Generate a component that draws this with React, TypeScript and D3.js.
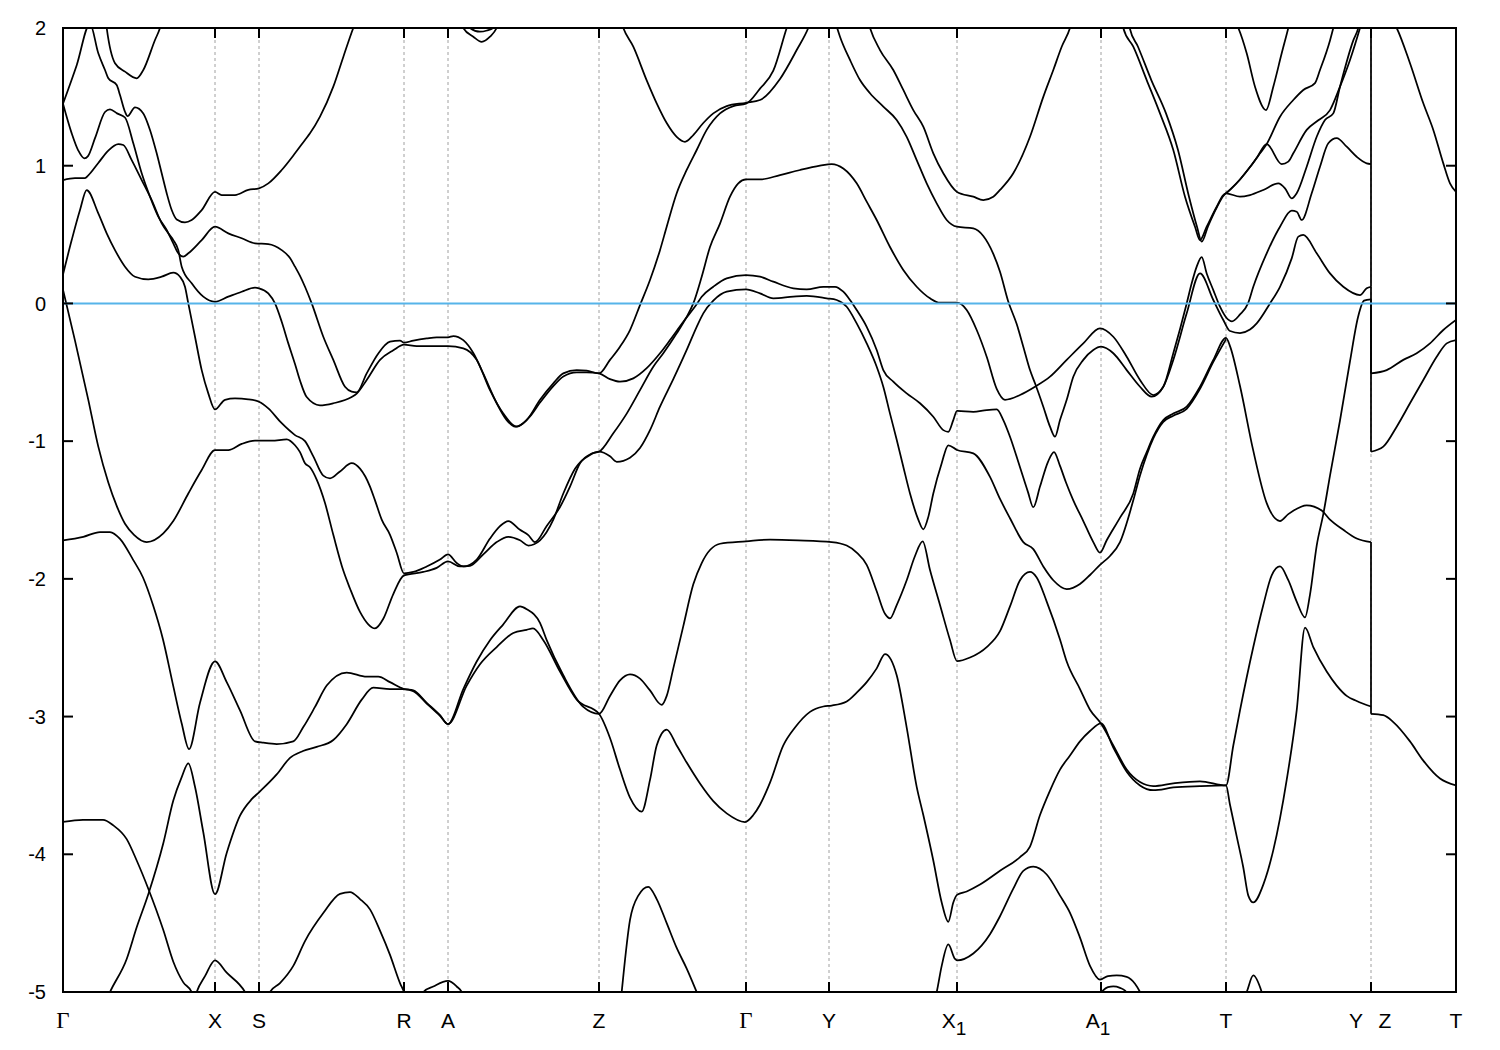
import React, { useEffect, useRef } from 'react';
import * as d3 from 'd3';

type Pt = [number, number];

// high-symmetry points along the k-path
const kTicks = [0, 1.52, 1.96, 3.41, 3.85, 5.36, 6.83, 7.66, 8.94, 10.38, 11.63, 13.08, 13.93];
const kLabels = ['Γ', 'X', 'S', 'R', 'A', 'Z', 'Γ', 'Y', 'X_1', 'A_1', 'T', 'Y|Z', 'T'];
const energyTicks = [-5, -4, -3, -2, -1, 0, 1, 2];

// bands: [k, E (eV)]
const band01: Pt[] = [[0,1.45],[0.137,1.73],[0.27,2.03],[0.353,1.816],[0.42,1.695],[0.453,1.635],[0.537,1.586],[0.57,1.513],[0.62,1.392],[0.645,1.36],[0.72,1.424],[0.803,1.38],[0.87,1.26],[0.937,1.09],[0.987,0.945],[1.037,0.8],[1.087,0.678],[1.137,0.61],[1.22,0.589],[1.287,0.606],[1.387,0.678],[1.52,0.81],[1.587,0.787],[1.72,0.787],[1.853,0.824],[1.96,0.836],[2.053,0.872],[2.187,0.969],[2.32,1.09],[2.42,1.187],[2.47,1.235],[2.57,1.356],[2.703,1.574],[2.803,1.79],[2.903,2.0],[2.93,2.05]];
const band02: Pt[] = [[0,1.45],[0.087,1.235],[0.153,1.11],[0.213,1.054],[0.25,1.07],[0.32,1.2],[0.42,1.39],[0.47,1.41],[0.54,1.38],[0.62,1.35],[0.703,1.163],[0.787,0.945],[0.87,0.775],[0.953,0.63],[1.037,0.533],[1.103,0.436],[1.153,0.364],[1.203,0.34],[1.253,0.364],[1.387,0.46],[1.52,0.557],[1.653,0.509],[1.787,0.473],[1.92,0.436],[2.053,0.431],[2.187,0.387],[2.27,0.33],[2.32,0.267],[2.37,0.2],[2.42,0.121],[2.487,0.0],[2.603,-0.242],[2.703,-0.41],[2.82,-0.605],[2.887,-0.64],[2.937,-0.645],[3.037,-0.508],[3.153,-0.363],[3.27,-0.278],[3.37,-0.27],[3.41,-0.285],[3.503,-0.27],[3.637,-0.254],[3.737,-0.246],[3.85,-0.246],[3.903,-0.237],[4.003,-0.267],[4.103,-0.36],[4.203,-0.51],[4.337,-0.725],[4.437,-0.847],[4.52,-0.895],[4.637,-0.847],[4.77,-0.7],[4.903,-0.58],[5.003,-0.508],[5.137,-0.484],[5.237,-0.488],[5.36,-0.508],[5.47,-0.41],[5.57,-0.314],[5.67,-0.193],[5.77,-0.012],[5.87,0.17],[5.97,0.387],[6.037,0.557],[6.137,0.8],[6.237,0.969],[6.337,1.114],[6.437,1.26],[6.57,1.38],[6.703,1.433],[6.83,1.45],[6.97,1.56],[7.103,1.69],[7.237,2.0],[7.26,2.05]];
const band03: Pt[] = [[0,0.896],[0.12,0.91],[0.22,0.91],[0.253,0.93],[0.353,1.02],[0.453,1.11],[0.553,1.157],[0.603,1.15],[0.687,1.041],[0.787,0.896],[0.887,0.751],[0.987,0.582],[1.053,0.509],[1.103,0.46],[1.153,0.387],[1.187,0.267],[1.287,0.146],[1.403,0.049],[1.52,0.012],[1.653,0.049],[1.787,0.085],[1.92,0.114],[1.96,0.11],[2.053,0.073],[2.12,0.0],[2.187,-0.133],[2.253,-0.29],[2.32,-0.44],[2.37,-0.56],[2.437,-0.68],[2.57,-0.74],[2.703,-0.725],[2.887,-0.68],[2.937,-0.655],[3.037,-0.556],[3.17,-0.41],[3.303,-0.34],[3.41,-0.3],[3.537,-0.31],[3.67,-0.31],[3.85,-0.31],[4.003,-0.326],[4.137,-0.41],[4.27,-0.63],[4.403,-0.8],[4.537,-0.895],[4.67,-0.82],[4.77,-0.72],[4.903,-0.6],[5.003,-0.53],[5.137,-0.5],[5.237,-0.5],[5.36,-0.508],[5.47,-0.55],[5.57,-0.568],[5.703,-0.544],[5.837,-0.47],[5.97,-0.362],[6.07,-0.266],[6.203,-0.133],[6.333,-0.01],[6.387,0.048],[6.503,0.121],[6.637,0.182],[6.83,0.206],[6.97,0.194],[7.103,0.158],[7.303,0.11],[7.437,0.102],[7.603,0.121],[7.72,0.121],[7.803,0.085],[7.87,0.025],[7.937,-0.048],[8.037,-0.17],[8.137,-0.338],[8.203,-0.484],[8.303,-0.568],[8.437,-0.653],[8.57,-0.725],[8.703,-0.823],[8.803,-0.92],[8.853,-0.932],[8.903,-0.847],[8.94,-0.78],[9.103,-0.787],[9.237,-0.774],[9.337,-0.77],[9.403,-0.847],[9.47,-0.968],[9.57,-1.19],[9.65,-1.37],[9.703,-1.48],[9.77,-1.33],[9.85,-1.15],[9.91,-1.08],[9.97,-1.18],[10.03,-1.3],[10.103,-1.43],[10.203,-1.58],[10.303,-1.733],[10.37,-1.81],[10.437,-1.72],[10.57,-1.555],[10.703,-1.38],[10.77,-1.2],[10.837,-1.08],[10.903,-0.968],[11.003,-0.847],[11.103,-0.8],[11.237,-0.75],[11.37,-0.605],[11.503,-0.41],[11.63,-0.25],[11.67,-0.31],[11.77,-0.6],[11.9,-1.06],[12.037,-1.45],[12.17,-1.58],[12.253,-1.53],[12.437,-1.466],[12.587,-1.504],[12.67,-1.57],[12.803,-1.644],[12.937,-1.707],[13.08,-1.733]];
const band04: Pt[] = [[0,0.21],[0.087,0.46],[0.17,0.678],[0.237,0.823],[0.353,0.654],[0.437,0.509],[0.52,0.387],[0.62,0.267],[0.72,0.194],[0.853,0.175],[0.987,0.194],[1.103,0.223],[1.17,0.194],[1.22,0.121],[1.253,0.0],[1.32,-0.242],[1.387,-0.484],[1.453,-0.653],[1.52,-0.77],[1.62,-0.7],[1.72,-0.69],[1.853,-0.696],[1.96,-0.714],[2.053,-0.762],[2.187,-0.87],[2.32,-0.956],[2.42,-1.0],[2.503,-1.11],[2.603,-1.25],[2.67,-1.27],[2.77,-1.22],[2.887,-1.16],[2.97,-1.2],[3.07,-1.33],[3.12,-1.43],[3.187,-1.57],[3.27,-1.68],[3.337,-1.81],[3.41,-1.96],[3.503,-1.95],[3.637,-1.91],[3.77,-1.86],[3.85,-1.822],[3.937,-1.885],[4.003,-1.91],[4.137,-1.86],[4.27,-1.707],[4.37,-1.617],[4.453,-1.58],[4.57,-1.644],[4.653,-1.682],[4.72,-1.733],[4.837,-1.616],[4.97,-1.478],[5.07,-1.33],[5.17,-1.16],[5.287,-1.09],[5.36,-1.077],[5.503,-0.943],[5.637,-0.8],[5.77,-0.63],[5.903,-0.46],[6.003,-0.362],[6.137,-0.217],[6.237,-0.097],[6.303,0.0],[6.387,0.194],[6.47,0.41],[6.57,0.58],[6.67,0.775],[6.753,0.872],[6.83,0.9],[6.97,0.9],[7.17,0.932],[7.37,0.969],[7.57,1.0],[7.687,1.012],[7.803,0.98],[7.937,0.872],[8.037,0.739],[8.137,0.606],[8.27,0.41],[8.403,0.243],[8.537,0.121],[8.67,0.037],[8.77,0.005],[8.94,0.005],[9.037,-0.048],[9.137,-0.193],[9.237,-0.387],[9.337,-0.62],[9.42,-0.7],[9.57,-0.665],[9.72,-0.605],[9.87,-0.532],[10.037,-0.41],[10.203,-0.29],[10.37,-0.181],[10.503,-0.242],[10.637,-0.387],[10.77,-0.556],[10.903,-0.665],[11.003,-0.605],[11.103,-0.362],[11.237,0.0],[11.287,0.146],[11.337,0.267],[11.387,0.336],[11.437,0.218],[11.503,0.097],[11.57,-0.024],[11.63,-0.1],[11.69,-0.13],[11.77,-0.08],[11.85,0.0],[11.903,0.121],[12.037,0.364],[12.17,0.557],[12.287,0.673],[12.337,0.666],[12.387,0.606],[12.487,0.8],[12.57,0.993],[12.653,1.163],[12.737,1.2],[12.837,1.138],[12.937,1.065],[13.037,1.017],[13.08,1.012]];
const band05: Pt[] = [[0,0.1],[0.12,-0.27],[0.253,-0.7],[0.353,-1.04],[0.453,-1.3],[0.537,-1.47],[0.62,-1.6],[0.71,-1.68],[0.837,-1.733],[1.003,-1.67],[1.103,-1.58],[1.253,-1.38],[1.387,-1.21],[1.52,-1.065],[1.653,-1.065],[1.787,-1.02],[1.92,-0.997],[2.087,-0.997],[2.237,-0.987],[2.32,-1.03],[2.37,-1.08],[2.42,-1.16],[2.47,-1.19],[2.537,-1.28],[2.62,-1.45],[2.703,-1.68],[2.803,-1.94],[2.87,-2.07],[2.97,-2.24],[3.053,-2.33],[3.12,-2.36],[3.203,-2.29],[3.303,-2.11],[3.41,-1.975],[3.603,-1.95],[3.737,-1.92],[3.85,-1.873],[3.97,-1.91],[4.07,-1.905],[4.203,-1.822],[4.337,-1.733],[4.453,-1.695],[4.57,-1.72],[4.653,-1.758],[4.77,-1.72],[4.903,-1.57],[5.003,-1.38],[5.12,-1.2],[5.27,-1.1],[5.36,-1.077],[5.47,-1.11],[5.537,-1.15],[5.67,-1.12],[5.77,-1.05],[5.87,-0.92],[5.97,-0.75],[6.103,-0.55],[6.237,-0.338],[6.337,-0.17],[6.403,-0.072],[6.503,0.02],[6.637,0.085],[6.83,0.102],[6.97,0.073],[7.103,0.037],[7.303,0.049],[7.437,0.054],[7.637,0.037],[7.737,0.025],[7.837,-0.024],[7.937,-0.145],[8.037,-0.29],[8.137,-0.46],[8.203,-0.605],[8.27,-0.8],[8.337,-0.99],[8.403,-1.186],[8.47,-1.38],[8.553,-1.57],[8.603,-1.64],[8.653,-1.55],[8.703,-1.38],[8.787,-1.16],[8.853,-1.03],[8.94,-1.064],[9.103,-1.089],[9.27,-1.26],[9.37,-1.42],[9.47,-1.56],[9.603,-1.733],[9.703,-1.784],[9.803,-1.91],[9.903,-2.01],[10.037,-2.074],[10.17,-2.037],[10.27,-1.972],[10.37,-1.898],[10.47,-1.834],[10.57,-1.733],[10.703,-1.43],[10.77,-1.25],[10.837,-1.1],[10.903,-0.98],[11.003,-0.86],[11.103,-0.815],[11.237,-0.765],[11.37,-0.62],[11.503,-0.425],[11.63,-0.26]];
const band06: Pt[] = [[0,-1.72],[0.203,-1.695],[0.37,-1.66],[0.47,-1.66],[0.57,-1.71],[0.7,-1.86],[0.8,-1.99],[0.9,-2.19],[1.0,-2.44],[1.1,-2.77],[1.187,-3.05],[1.26,-3.236],[1.37,-2.9],[1.52,-2.6],[1.637,-2.75],[1.77,-2.955],[1.92,-3.18],[2.003,-3.19],[2.137,-3.2],[2.303,-3.18],[2.4,-3.08],[2.52,-2.93],[2.637,-2.775],[2.837,-2.68],[3.037,-2.71],[3.153,-2.71],[3.27,-2.75],[3.41,-2.8],[3.503,-2.81],[3.637,-2.9],[3.77,-2.99],[3.85,-3.055],[4.003,-2.8],[4.137,-2.6],[4.27,-2.445],[4.403,-2.33],[4.57,-2.2],[4.637,-2.22],[4.77,-2.32],[4.837,-2.445],[5.003,-2.7],[5.203,-2.93],[5.36,-2.98],[5.47,-2.85],[5.57,-2.737],[5.67,-2.693],[5.77,-2.724],[5.87,-2.81],[5.987,-2.915],[6.037,-2.85],[6.103,-2.65],[6.203,-2.343],[6.303,-2.04],[6.387,-1.885],[6.57,-1.745],[6.83,-1.728],[7.07,-1.715],[7.35,-1.72],[7.687,-1.733],[7.837,-1.758],[7.937,-1.809],[8.037,-1.898],[8.137,-2.09],[8.22,-2.254],[8.27,-2.287],[8.337,-2.19],[8.437,-2.01],[8.52,-1.834],[8.597,-1.728],[8.67,-1.936],[8.77,-2.19],[8.87,-2.444],[8.94,-2.597],[9.07,-2.571],[9.237,-2.495],[9.37,-2.38],[9.47,-2.2],[9.57,-2.01],[9.67,-1.95],[9.737,-1.99],[9.837,-2.165],[9.97,-2.44],[10.037,-2.6],[10.17,-2.8],[10.27,-2.95],[10.38,-3.05],[10.503,-3.21],[10.637,-3.385],[10.77,-3.476],[10.903,-3.505],[11.103,-3.485],[11.37,-3.47],[11.63,-3.5],[11.703,-3.21],[11.77,-2.955],[11.903,-2.495],[12.003,-2.19],[12.087,-1.974],[12.17,-1.91],[12.253,-2.01],[12.337,-2.165],[12.42,-2.28],[12.47,-2.114],[12.537,-1.758],[12.603,-1.53],[12.67,-1.25],[12.77,-0.85],[12.87,-0.42],[12.95,-0.1],[13.01,0.02],[13.08,0.03]];
const band07: Pt[] = [[0,-3.765],[0.2,-3.75],[0.4,-3.75],[0.503,-3.79],[0.637,-3.89],[0.737,-4.045],[0.853,-4.25],[1.003,-4.55],[1.103,-4.78],[1.203,-4.93],[1.287,-5.0],[1.3,-5.05]];
const band08: Pt[] = [[0.44,-5.05],[0.47,-5.0],[0.637,-4.76],[0.737,-4.53],[0.853,-4.29],[1.003,-3.92],[1.103,-3.61],[1.187,-3.44],[1.253,-3.34],[1.32,-3.51],[1.403,-3.84],[1.52,-4.29],[1.637,-3.99],[1.77,-3.72],[1.887,-3.6],[1.96,-3.55],[2.137,-3.42],[2.27,-3.3],[2.4,-3.25],[2.537,-3.22],[2.703,-3.17],[2.837,-3.055],[2.987,-2.877],[3.103,-2.79],[3.27,-2.8],[3.41,-2.8],[3.503,-2.815],[3.637,-2.905],[3.77,-2.995],[3.85,-3.055],[4.037,-2.775],[4.17,-2.62],[4.337,-2.495],[4.503,-2.393],[4.637,-2.37],[4.7,-2.36],[4.803,-2.445],[4.97,-2.673],[5.137,-2.877],[5.36,-2.98],[5.47,-3.156],[5.57,-3.385],[5.67,-3.588],[5.787,-3.69],[5.87,-3.46],[5.937,-3.21],[6.037,-3.095],[6.137,-3.21],[6.237,-3.334],[6.37,-3.486],[6.503,-3.614],[6.637,-3.703],[6.82,-3.766],[6.903,-3.715],[6.97,-3.64],[7.07,-3.48],[7.203,-3.21],[7.32,-3.08],[7.47,-2.966],[7.603,-2.927],[7.687,-2.92],[7.837,-2.89],[7.937,-2.826],[8.037,-2.75],[8.137,-2.65],[8.22,-2.546],[8.337,-2.7],[8.437,-3.08],[8.537,-3.51],[8.603,-3.715],[8.703,-4.045],[8.787,-4.35],[8.853,-4.49],[8.903,-4.35],[8.94,-4.295],[9.037,-4.27],[9.17,-4.22],[9.37,-4.12],[9.57,-4.02],[9.67,-3.944],[9.77,-3.715],[9.87,-3.537],[9.97,-3.385],[10.07,-3.283],[10.17,-3.18],[10.27,-3.105],[10.38,-3.05],[10.503,-3.225],[10.637,-3.4],[10.77,-3.5],[10.903,-3.535],[11.103,-3.515],[11.37,-3.505],[11.63,-3.5],[11.67,-3.64],[11.737,-3.87],[11.803,-4.096],[11.853,-4.3],[11.903,-4.35],[12.003,-4.22],[12.103,-3.97],[12.237,-3.46],[12.337,-2.955],[12.42,-2.355],[12.503,-2.495],[12.637,-2.673],[12.737,-2.775],[12.837,-2.85],[12.937,-2.887],[13.08,-2.927]];
const band09: Pt[] = [[1.32,-5.04],[1.337,-5.0],[1.42,-4.885],[1.52,-4.77],[1.637,-4.86],[1.82,-5.0],[1.85,-5.04]];
const band10: Pt[] = [[2.05,-5.04],[2.07,-5.0],[2.17,-4.935],[2.303,-4.81],[2.42,-4.63],[2.603,-4.427],[2.77,-4.287],[2.87,-4.274],[2.97,-4.325],[3.07,-4.4],[3.17,-4.554],[3.27,-4.73],[3.37,-4.935],[3.41,-5.0],[3.43,-5.04]];
const band11: Pt[] = [[3.58,-5.03],[3.603,-5.0],[3.703,-4.96],[3.85,-4.92],[3.937,-4.96],[3.987,-5.0],[4.0,-5.02]];
const band12: Pt[] = [[5.58,-5.05],[5.587,-5.0],[5.67,-4.477],[5.753,-4.3],[5.853,-4.236],[5.937,-4.325],[6.037,-4.5],[6.137,-4.68],[6.237,-4.83],[6.337,-5.0],[6.36,-5.04]];
const band13: Pt[] = [[8.72,-5.05],[8.737,-5.0],[8.787,-4.81],[8.853,-4.655],[8.92,-4.76],[8.94,-4.77],[9.103,-4.72],[9.27,-4.58],[9.37,-4.45],[9.503,-4.25],[9.603,-4.12],[9.703,-4.09],[9.837,-4.147],[9.97,-4.3],[10.07,-4.425],[10.17,-4.605],[10.27,-4.81],[10.37,-4.91],[10.45,-4.885],[10.537,-4.88],[10.637,-4.89],[10.72,-4.94],[10.77,-5.0],[10.79,-5.03]];
const band14: Pt[] = [[10.39,-4.995],[10.45,-4.965],[10.503,-4.96],[10.57,-4.97],[10.62,-4.99],[10.65,-5.02]];
const band15: Pt[] = [[11.82,-5.03],[11.837,-5.0],[11.903,-4.88],[11.987,-5.0],[12.0,-5.03]];
const band16: Pt[] = [[8.05,2.05],[8.07,2.0],[8.17,1.84],[8.303,1.695],[8.403,1.55],[8.503,1.404],[8.603,1.283],[8.703,1.09],[8.803,0.945],[8.94,0.81],[9.103,0.775],[9.203,0.751],[9.303,0.775],[9.37,0.824],[9.503,0.945],[9.67,1.21],[9.803,1.5],[9.903,1.695],[9.987,1.864],[10.07,2.0],[10.09,2.05]];
const band17: Pt[] = [[7.72,2.05],[7.77,1.937],[7.87,1.768],[7.97,1.622],[8.07,1.526],[8.203,1.429],[8.337,1.332],[8.437,1.21],[8.537,1.041],[8.637,0.872],[8.737,0.727],[8.837,0.606],[8.94,0.557],[9.103,0.545],[9.203,0.49],[9.303,0.36],[9.37,0.23],[9.45,0.02],[9.537,-0.15],[9.603,-0.314],[9.67,-0.484],[9.72,-0.58],[9.803,-0.75],[9.87,-0.895],[9.92,-0.968],[9.97,-0.847],[10.037,-0.7],[10.103,-0.532],[10.203,-0.41],[10.303,-0.338],[10.38,-0.314],[10.503,-0.362],[10.637,-0.484],[10.77,-0.605],[10.887,-0.677],[11.003,-0.605],[11.103,-0.41],[11.237,-0.072],[11.37,0.218],[11.503,0.025],[11.603,-0.12],[11.67,-0.2],[11.77,-0.215],[11.87,-0.19],[11.937,-0.145],[12.07,0.0],[12.17,0.121],[12.287,0.327],[12.353,0.485],[12.403,0.497],[12.537,0.364],[12.67,0.218],[12.803,0.121],[12.97,0.061],[13.037,0.11],[13.08,0.121]];
const band18: Pt[] = [[5.58,2.05],[5.603,2.0],[5.703,1.864],[5.837,1.62],[5.937,1.453],[6.037,1.31],[6.137,1.21],[6.22,1.174],[6.303,1.223],[6.403,1.31],[6.503,1.38],[6.637,1.433],[6.83,1.457],[6.97,1.477],[7.17,1.63],[7.337,1.84],[7.453,2.0],[7.48,2.05]];
const band19: Pt[] = [[10.58,2.1],[10.603,2.0],[10.703,1.864],[10.837,1.622],[10.97,1.38],[11.103,1.114],[11.22,0.775],[11.32,0.557],[11.37,0.46],[11.437,0.557],[11.537,0.702],[11.603,0.787],[11.63,0.8],[11.77,0.9],[11.87,0.99],[11.97,1.09],[12.037,1.157],[12.17,1.356],[12.303,1.477],[12.403,1.55],[12.52,1.6],[12.57,1.695],[12.67,1.91],[12.703,2.0],[12.72,2.05]];
const band20: Pt[] = [[10.64,2.1],[10.667,2.0],[10.75,1.864],[10.883,1.622],[11.03,1.38],[11.15,1.114],[11.26,0.775],[11.34,0.557],[11.387,0.448],[11.45,0.56],[11.54,0.7],[11.603,0.78],[11.63,0.8],[11.77,0.775],[11.87,0.787],[12.003,0.824],[12.153,0.872],[12.22,0.836],[12.287,0.763],[12.337,0.8],[12.437,0.993],[12.537,1.21],[12.62,1.332],[12.703,1.38],[12.77,1.574],[12.903,1.91],[12.953,2.0],[12.97,2.05]];
const band21: Pt[] = [[11.63,0.8],[11.77,0.9],[11.87,0.99],[11.94,1.06],[12.037,1.157],[12.187,1.012],[12.253,1.03],[12.303,1.09],[12.437,1.26],[12.553,1.33],[12.67,1.404],[12.77,1.574],[12.87,1.768],[12.97,2.0],[12.99,2.05]];
const band22: Pt[] = [[11.72,2.05],[11.753,2.0],[11.837,1.816],[11.92,1.574],[12.03,1.404],[12.103,1.574],[12.187,1.816],[12.253,2.0],[12.27,2.05]];
const band23: Pt[] = [[13.3,2.05],[13.337,2.0],[13.47,1.744],[13.603,1.453],[13.703,1.26],[13.803,1.017],[13.87,0.872],[13.93,0.81]];
const band24: Pt[] = [[13.08,-0.508],[13.237,-0.484],[13.403,-0.41],[13.537,-0.362],[13.67,-0.29],[13.803,-0.193],[13.93,-0.12]];
const band25: Pt[] = [[13.08,-1.077],[13.203,-1.04],[13.337,-0.895],[13.47,-0.725],[13.603,-0.556],[13.737,-0.387],[13.837,-0.29],[13.93,-0.266]];
const band26: Pt[] = [[13.08,-2.98],[13.203,-2.99],[13.303,-3.04],[13.47,-3.18],[13.603,-3.32],[13.77,-3.45],[13.93,-3.5]];
const band27: Pt[] = [[0.42,2.1],[0.437,2.0],[0.52,1.744],[0.62,1.683],[0.737,1.635],[0.803,1.695],[0.92,1.913],[0.97,2.0],[0.99,2.05]];
const band28: Pt[] = [[3.98,2.04],[4.003,2.0],[4.103,1.937],[4.187,1.9],[4.27,1.937],[4.337,2.0],[4.36,2.04]];
const band29: Pt[] = [[4.05,2.03],[4.07,2.0],[4.17,1.973],[4.24,1.982],[4.3,2.0],[4.32,2.03]];

const bands: Pt[][] = [band01, band02, band03, band04, band05, band06, band07, band08, band09, band10, band11, band12, band13, band14, band15, band16, band17, band18, band19, band20, band21, band22, band23, band24, band25, band26, band27, band28, band29];

// energies joined by the vertical jump at Y|Z
const yzJumps: [number, number][] = [[-1.733, -2.98], [0.03, -1.077], [0.121, -0.508], [1.012, 2.3], [0.121, 1.012]];

export default function App(): JSX.Element {
  const ref = useRef<SVGSVGElement>(null);
  useEffect(() => {
    if (!ref.current) return;
    const svg = d3.select(ref.current);
    svg.selectAll('*').remove();
    const left = 63, right = 1456, top = 28, bottom = 992;
    const x = d3.scaleLinear().domain([0, 13.93]).range([left, right]);
    const y = d3.scaleLinear().domain([-5, 2]).range([bottom, top]);

    svg.append('rect').attr('width', 1500).attr('height', 1050).attr('fill', '#fff');
    svg.append('defs').append('clipPath').attr('id', 'plotclip')
      .append('rect').attr('x', left).attr('y', top).attr('width', right - left).attr('height', bottom - top);

    // dashed separators
    svg.append('g').selectAll('line').data(kTicks.slice(1, -1)).join('line')
      .attr('x1', (d) => x(d)).attr('x2', (d) => x(d))
      .attr('y1', top).attr('y2', bottom)
      .attr('stroke', '#a0a0a0').attr('stroke-width', 1).attr('stroke-dasharray', '3,3');

    const line = d3.line<Pt>().x((d) => x(d[0])).y((d) => y(d[1])).curve(d3.curveMonotoneX);
    const g = svg.append('g').attr('clip-path', 'url(#plotclip)');
    g.selectAll('path').data(bands).join('path')
      .attr('d', (d) => line(d) as string)
      .attr('fill', 'none').attr('stroke', '#000').attr('stroke-width', 1.75)
      .attr('stroke-linejoin', 'round');
    g.selectAll('line.jump').data(yzJumps).join('line')
      .attr('class', 'jump')
      .attr('x1', x(13.08)).attr('x2', x(13.08))
      .attr('y1', (d) => y(d[0])).attr('y2', (d) => y(d[1]))
      .attr('stroke', '#000').attr('stroke-width', 1.75);

    // Fermi level
    svg.append('line').attr('x1', left).attr('x2', right).attr('y1', y(0)).attr('y2', y(0))
      .attr('stroke', '#56b4e9').attr('stroke-width', 2);

    // frame
    svg.append('rect').attr('x', left).attr('y', top).attr('width', right - left).attr('height', bottom - top)
      .attr('fill', 'none').attr('stroke', '#000').attr('stroke-width', 2);

    const tl = 10;
    const ticks = svg.append('g').attr('stroke', '#000').attr('stroke-width', 2);
    energyTicks.forEach((e) => {
      ticks.append('line').attr('x1', left).attr('x2', left + tl).attr('y1', y(e)).attr('y2', y(e));
      ticks.append('line').attr('x1', right - tl).attr('x2', right).attr('y1', y(e)).attr('y2', y(e));
    });
    kTicks.slice(1, -1).forEach((k) => {
      ticks.append('line').attr('x1', x(k)).attr('x2', x(k)).attr('y1', bottom).attr('y2', bottom - tl);
      ticks.append('line').attr('x1', x(k)).attr('x2', x(k)).attr('y1', top).attr('y2', top + tl);
    });

    svg.append('g').selectAll('text').data(energyTicks).join('text')
      .attr('x', left - 17).attr('y', (d) => y(d)).attr('dy', '0.36em')
      .attr('text-anchor', 'end')
      .style('font-family', 'Liberation Sans, Arial, sans-serif').style('font-size', '20px')
      .text((d) => String(d));

    const lab = svg.append('g').style('font-family', 'Liberation Sans, Arial, sans-serif').style('font-size', '21px');
    kTicks.forEach((k, i) => {
      const name = kLabels[i];
      const ly = 1028;
      if (name === 'Γ') {
        lab.append('text').attr('x', x(k)).attr('y', ly).attr('text-anchor', 'middle')
          .style('font-family', 'Liberation Serif, Times New Roman, serif').style('font-size', '23px').text('Γ');
      } else if (name.includes('|')) {
        const [a, b] = name.split('|');
        lab.append('text').attr('x', x(k) - 15).attr('y', ly).attr('text-anchor', 'middle').text(a);
        lab.append('text').attr('x', x(k) + 14).attr('y', ly).attr('text-anchor', 'middle').text(b);
      } else if (name.includes('_')) {
        const [a, b] = name.split('_');
        const t = lab.append('text').attr('x', x(k) - 3).attr('y', ly).attr('text-anchor', 'middle');
        t.append('tspan').text(a);
        t.append('tspan').attr('dy', 7).style('font-size', '19px').text(b);
      } else {
        lab.append('text').attr('x', x(k)).attr('y', ly).attr('text-anchor', 'middle').text(name);
      }
    });
  }, []);
  return <svg ref={ref} width={1500} height={1050} style={{ position: 'absolute', left: 0, top: 0 }} />;
}
